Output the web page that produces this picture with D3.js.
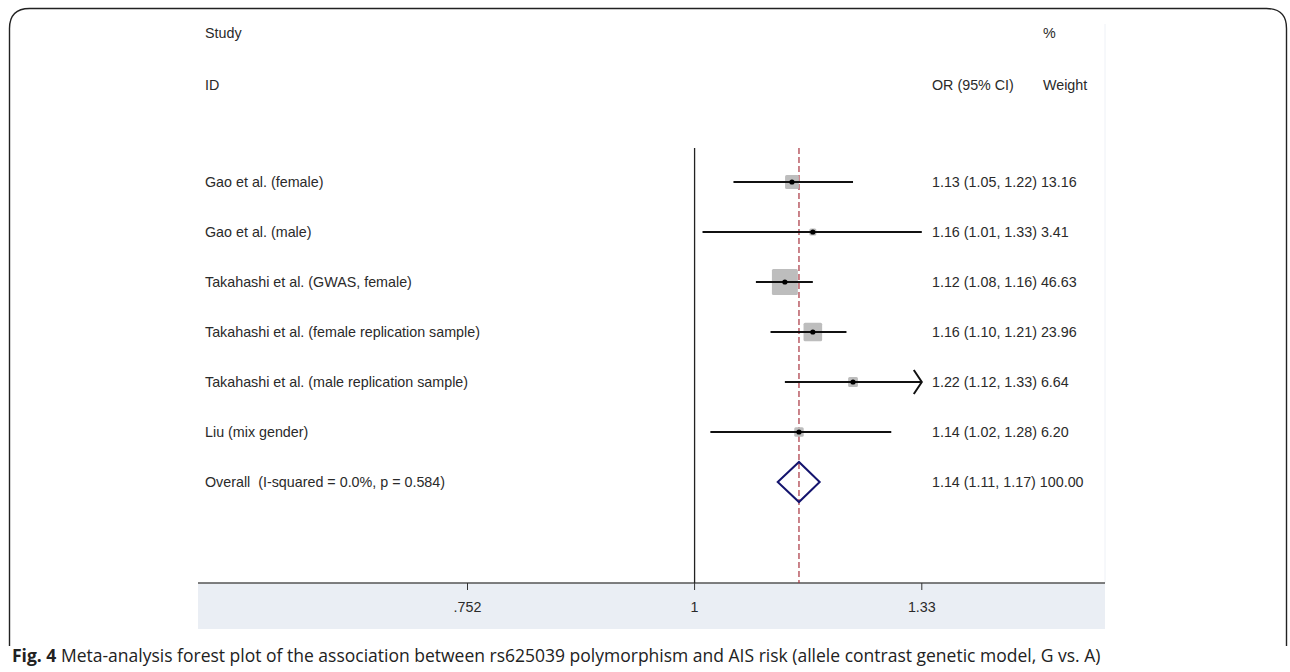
<!DOCTYPE html>
<html>
<head>
<meta charset="utf-8">
<script src="https://cdn.jsdelivr.net/npm/d3@7"></script>
<style>
  html, body { margin: 0; padding: 0; background: #fff; }
  svg { display: block; }
  text { white-space: pre; }
</style>
</head>
<body>
<svg id="chart" width="1290" height="672"></svg>
<script>
// Study rows of the forest plot
const studies = [
  "Gao et al. (female)",
  "Gao et al. (male)",
  "Takahashi et al. (GWAS, female)",
  "Takahashi et al. (female replication sample)",
  "Takahashi et al. (male replication sample)",
  "Liu (mix gender)"
];
const oddsRatios = [1.13, 1.16, 1.12, 1.16, 1.22, 1.14];
const ciLower    = [1.05, 1.01, 1.08, 1.10, 1.12, 1.02];
const ciUpper    = [1.22, 1.33, 1.16, 1.21, 1.33, 1.28];
const weights    = [13.16, 3.41, 46.63, 23.96, 6.64, 6.20];
// CI that runs past the right end of the axis (drawn with an arrow)
const ciBeyondAxis = [false, false, false, false, true, false];

// Pooled estimate
const overallLabel  = "Overall  (I-squared = 0.0%, p = 0.584)";
const overallOR     = 1.14;
const overallCI     = [1.11, 1.17];
const overallWeight = 100.00;

// Axis
const axisTicks  = [0.752, 1, 1.33];
const tickLabels = [".752", "1", "1.33"];

const captionBold = "Fig. 4";
const captionText = " Meta-analysis forest plot of the association between rs625039 polymorphism and AIS risk (allele contrast genetic model, G vs. A)";

const svg = d3.select("#chart");
const FONT = "'Liberation Sans', Arial, sans-serif";
const FS = 14.3;
const TEXT_COLOR = "#2a2a2a";

// Layout
const plotLeft = 198, plotRight = 1105;
const axisY = 583, bandBottom = 629;
const lineTop = 148;
const textX = 205, ciTextX = 932, weightX = 1043;

const x = d3.scaleLog().domain([0.752, 1.33]).range([467.5, 921.8]);
const y = d3.scaleLinear().domain([0, 1]).range([182, 232]);
const side = d3.scaleSqrt().domain([0, 100]).range([0, 38]);

// Outer frame (rounded top corners, open at the bottom)
const fr = { l: 9.5, t: 8.5, r: 1286.5, b: 646, rad: 20 };
svg.append("path")
  .attr("d", `M${fr.l},${fr.b} V${fr.t + fr.rad} Q${fr.l},${fr.t} ${fr.l + fr.rad},${fr.t} H${fr.r - fr.rad} Q${fr.r},${fr.t} ${fr.r},${fr.t + fr.rad} V${fr.b}`)
  .attr("fill", "none").attr("stroke", "#222").attr("stroke-width", 1.4);

// Axis band
svg.append("rect")
  .attr("x", plotLeft).attr("y", axisY)
  .attr("width", plotRight - plotLeft).attr("height", bandBottom - axisY)
  .attr("fill", "#eaeef4");

// Faint right edge of the plot region
svg.append("line")
  .attr("x1", plotRight).attr("x2", plotRight).attr("y1", 24).attr("y2", axisY)
  .attr("stroke", "#eef1f6").attr("stroke-width", 1);

// Axis line + ticks
svg.append("line")
  .attr("x1", plotLeft).attr("x2", plotRight).attr("y1", axisY).attr("y2", axisY)
  .attr("stroke", "#555").attr("stroke-width", 1.6);

const ticks = svg.append("g");
ticks.selectAll("line").data(axisTicks).join("line")
  .attr("x1", d => x(d)).attr("x2", d => x(d))
  .attr("y1", axisY).attr("y2", axisY + 7)
  .attr("stroke", "#333").attr("stroke-width", 1);
ticks.selectAll("text").data(axisTicks).join("text")
  .attr("x", d => x(d)).attr("y", axisY + 29)
  .attr("text-anchor", "middle")
  .attr("font-family", FONT).attr("font-size", FS).attr("fill", TEXT_COLOR)
  .text((d, i) => tickLabels[i]);

// Null line at OR = 1
svg.append("line")
  .attr("x1", x(1)).attr("x2", x(1)).attr("y1", lineTop).attr("y2", axisY)
  .attr("stroke", "#222").attr("stroke-width", 1.3);

// Dashed line at the pooled OR
svg.append("line")
  .attr("x1", x(overallOR)).attr("x2", x(overallOR)).attr("y1", lineTop).attr("y2", axisY)
  .attr("stroke", "#a8323e").attr("stroke-width", 1.2)
  .attr("stroke-dasharray", "6,3");

// Header text
const hdr = svg.append("g").attr("font-family", FONT).attr("font-size", FS).attr("fill", TEXT_COLOR);
hdr.append("text").attr("x", textX).attr("y", 38).text("Study");
hdr.append("text").attr("x", textX).attr("y", 90).text("ID");
hdr.append("text").attr("x", weightX).attr("y", 38).text("%");
hdr.append("text").attr("x", ciTextX).attr("y", 90).text("OR (95% CI)");
hdr.append("text").attr("x", weightX).attr("y", 90).text("Weight");

// Study rows
const rows = svg.append("g").selectAll("g").data(studies).join("g")
  .attr("transform", (d, i) => `translate(0,${y(i)})`);

// Weight squares
rows.append("rect")
  .attr("x", (d, i) => x(oddsRatios[i]) - side(weights[i]) / 2)
  .attr("y", (d, i) => -side(weights[i]) / 2)
  .attr("width", (d, i) => side(weights[i]))
  .attr("height", (d, i) => side(weights[i]))
  .attr("rx", 1.5)
  .attr("fill", "#bdbdbd");

// Confidence intervals
rows.append("line")
  .attr("x1", (d, i) => x(ciLower[i]))
  .attr("x2", (d, i) => x(ciUpper[i]))
  .attr("stroke", "#111").attr("stroke-width", 2.1);

// Arrowheads for intervals past the axis end
rows.filter((d, i) => ciBeyondAxis[i]).append("path")
  .attr("d", (d) => {
    const i = studies.indexOf(d);
    const xe = x(ciUpper[i]);
    return `M${xe - 8},-12 L${xe},0 L${xe - 8},12`;
  })
  .attr("fill", "none").attr("stroke", "#111").attr("stroke-width", 2);

// Point estimates
rows.append("circle")
  .attr("cx", (d, i) => x(oddsRatios[i]))
  .attr("r", 2.6).attr("fill", "#000");

// Study labels
rows.append("text")
  .attr("x", textX).attr("y", 5)
  .attr("font-family", FONT).attr("font-size", FS).attr("fill", TEXT_COLOR)
  .text(d => d);

// OR (CI) and weight
const fmt = d3.format(".2f");
rows.append("text")
  .attr("x", ciTextX).attr("y", 5)
  .attr("font-family", FONT).attr("font-size", FS).attr("fill", TEXT_COLOR)
  .text((d, i) => `${fmt(oddsRatios[i])} (${fmt(ciLower[i])}, ${fmt(ciUpper[i])}) ${fmt(weights[i])}`);

// Overall row
const ov = svg.append("g").attr("transform", `translate(0,${y(studies.length)})`);
const dh = 20;
ov.append("path")
  .attr("d", `M${x(overallCI[0])},0 L${x(overallOR)},${-dh} L${x(overallCI[1])},0 L${x(overallOR)},${dh} Z`)
  .attr("fill", "none").attr("stroke", "#14146e").attr("stroke-width", 2);
ov.append("text")
  .attr("x", textX).attr("y", 5)
  .attr("font-family", FONT).attr("font-size", FS).attr("fill", TEXT_COLOR)
  .text(overallLabel);
ov.append("text")
  .attr("x", ciTextX).attr("y", 5)
  .attr("font-family", FONT).attr("font-size", FS).attr("fill", TEXT_COLOR)
  .text(`${fmt(overallOR)} (${fmt(overallCI[0])}, ${fmt(overallCI[1])}) ${fmt(overallWeight)}`);

// Caption
const cap = svg.append("text")
  .attr("x", 12).attr("y", 662)
  .attr("font-family", "'Open Sans', 'Noto Sans', sans-serif")
  .attr("font-size", 17.5).attr("fill", "#222");
cap.append("tspan").attr("font-weight", "bold").text(captionBold);
cap.append("tspan").text(captionText);
</script>
</body>
</html>
